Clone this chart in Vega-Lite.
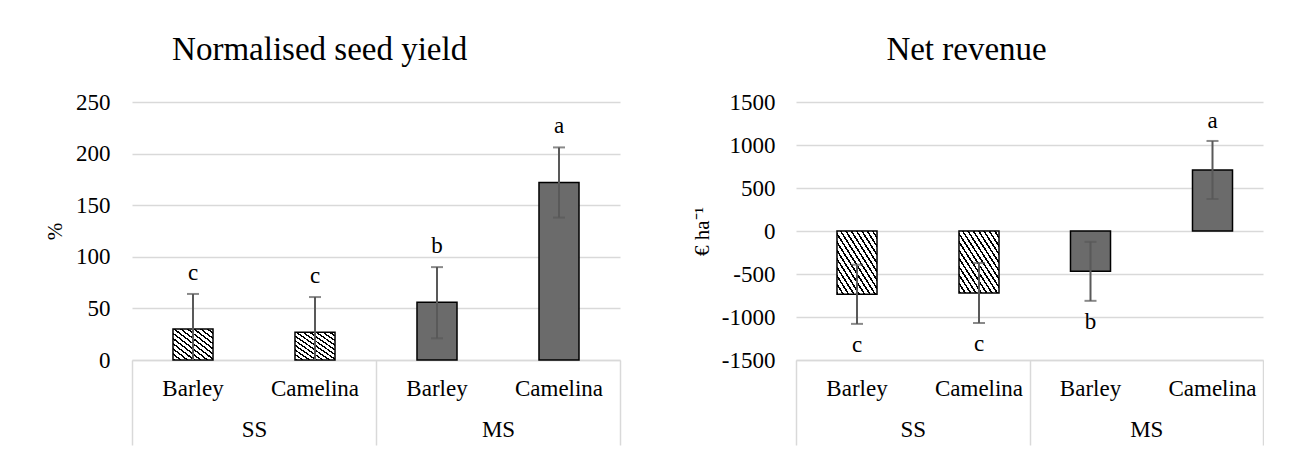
{
  "$schema": "https://vega.github.io/schema/vega-lite/v6.json",
  "background": "white",
  "padding": {"left": 44, "top": 34, "right": 0, "bottom": 0},
  "config": {
    "font": "Liberation Serif",
    "view": {"stroke": null},
    "axis": {"labelColor": "black", "titleColor": "black", "labelFontSize": 23, "titleFontSize": 21, "titleFontWeight": "normal", "labelFont": "Liberation Serif", "titleFont": "Liberation Serif"},
    "title": {"font": "Liberation Serif", "fontWeight": "normal", "color": "black", "fontSize": 33}
  },
  "datasets": {
    "yield": [
      {"system": "SS", "crop": "Barley", "mean": 30, "lo": -4, "hi": 64, "letter": "c"},
      {"system": "SS", "crop": "Camelina", "mean": 27, "lo": -7, "hi": 61, "letter": "c"},
      {"system": "MS", "crop": "Barley", "mean": 56, "lo": 21, "hi": 90, "letter": "b"},
      {"system": "MS", "crop": "Camelina", "mean": 172, "lo": 138, "hi": 206, "letter": "a"}
    ],
    "revenue": [
      {"system": "SS", "crop": "Barley", "mean": -735, "lo": -1080, "hi": -392, "letter": "c"},
      {"system": "SS", "crop": "Camelina", "mean": -720, "lo": -1070, "hi": -372, "letter": "c"},
      {"system": "MS", "crop": "Barley", "mean": -468, "lo": -812, "hi": -126, "letter": "b"},
      {"system": "MS", "crop": "Camelina", "mean": 710, "lo": 372, "hi": 1047, "letter": "a"}
    ]
  },
  "spacing": 70,
  "hconcat": [
    {
      "width": 488,
      "height": 258,
      "title": {"text": "Normalised seed yield", "anchor": "middle", "frame": "bounds", "dx": -13, "offset": 24},
      "data": {"name": "yield"},
      "encoding": {
        "x": {"field": "system", "type": "nominal", "sort": ["SS", "MS"], "scale": {"paddingInner": 0, "paddingOuter": 0},
          "axis": {"title": null, "labelAngle": 0, "tickBand": "extent", "tickSize": 85, "tickColor": "#d9d9d9", "tickWidth": 1.5, "domainColor": "#d9d9d9", "domainWidth": 1.5, "labelPadding": -26.5, "grid": false}},
        "xOffset": {"field": "crop", "type": "nominal", "sort": ["Barley", "Camelina"], "scale": {"paddingInner": 0.672, "paddingOuter": 0.336}}
      },
      "layer": [
        {
          "mark": {"type": "bar", "stroke": "black", "strokeWidth": 1.5},
          "encoding": {
            "y": {"field": "mean", "type": "quantitative", "scale": {"domain": [0, 250], "nice": false},
              "axis": {"title": "%", "labelExpr": "datum.value + ''", "values": [0, 50, 100, 150, 200, 250], "grid": true, "gridColor": "#d9d9d9", "gridWidth": 1.5, "domain": false, "ticks": false, "labelPadding": 22, "titlePadding": 10}},
            "fill": {
              "condition": {"test": "datum.system === 'SS'", "value": {"gradient": "linear", "x1": 0, "y1": 1, "x2": 1, "y2": 0, "stops": [
                {"offset": 0, "color": "black"}, {"offset": 0.0292, "color": "black"}, {"offset": 0.0292, "color": "white"}, {"offset": 0.0833, "color": "white"},
                {"offset": 0.0833, "color": "black"}, {"offset": 0.1125, "color": "black"}, {"offset": 0.1125, "color": "white"}, {"offset": 0.1667, "color": "white"},
                {"offset": 0.1667, "color": "black"}, {"offset": 0.1958, "color": "black"}, {"offset": 0.1958, "color": "white"}, {"offset": 0.25, "color": "white"},
                {"offset": 0.25, "color": "black"}, {"offset": 0.2792, "color": "black"}, {"offset": 0.2792, "color": "white"}, {"offset": 0.3333, "color": "white"},
                {"offset": 0.3333, "color": "black"}, {"offset": 0.3625, "color": "black"}, {"offset": 0.3625, "color": "white"}, {"offset": 0.4167, "color": "white"},
                {"offset": 0.4167, "color": "black"}, {"offset": 0.4458, "color": "black"}, {"offset": 0.4458, "color": "white"}, {"offset": 0.5, "color": "white"},
                {"offset": 0.5, "color": "black"}, {"offset": 0.5292, "color": "black"}, {"offset": 0.5292, "color": "white"}, {"offset": 0.5833, "color": "white"},
                {"offset": 0.5833, "color": "black"}, {"offset": 0.6125, "color": "black"}, {"offset": 0.6125, "color": "white"}, {"offset": 0.6667, "color": "white"},
                {"offset": 0.6667, "color": "black"}, {"offset": 0.6958, "color": "black"}, {"offset": 0.6958, "color": "white"}, {"offset": 0.75, "color": "white"},
                {"offset": 0.75, "color": "black"}, {"offset": 0.7792, "color": "black"}, {"offset": 0.7792, "color": "white"}, {"offset": 0.8333, "color": "white"},
                {"offset": 0.8333, "color": "black"}, {"offset": 0.8625, "color": "black"}, {"offset": 0.8625, "color": "white"}, {"offset": 0.9167, "color": "white"},
                {"offset": 0.9167, "color": "black"}, {"offset": 0.9458, "color": "black"}, {"offset": 0.9458, "color": "white"}, {"offset": 1, "color": "white"}
              ]}},
              "value": "#6b6b6b"
            }
          }
        },
        {
          "mark": {"type": "rule", "color": "#595959", "strokeWidth": 2, "clip": true},
          "encoding": {"y": {"field": "lo", "type": "quantitative"}, "y2": {"field": "hi"}}
        },
        {
          "mark": {"type": "tick", "color": "#595959", "thickness": 2, "size": 12, "clip": true, "orient": "horizontal"},
          "encoding": {"y": {"field": "lo", "type": "quantitative"}}
        },
        {
          "mark": {"type": "tick", "color": "#595959", "thickness": 2, "size": 12, "orient": "horizontal"},
          "encoding": {"y": {"field": "hi", "type": "quantitative"}}
        },
        {
          "mark": {"type": "text", "fontSize": 23, "baseline": "alphabetic", "dy": -14, "color": "black"},
          "encoding": {"y": {"field": "hi", "type": "quantitative"}, "text": {"field": "letter"}}
        },
        {
          "mark": {"type": "text", "fontSize": 23, "baseline": "middle", "dy": 29, "color": "black"},
          "encoding": {"y": {"datum": 0}, "text": {"field": "crop"}}
        }
      ]
    },
    {
      "width": 467,
      "height": 258,
      "title": {"text": "Net revenue", "anchor": "middle", "frame": "bounds", "dx": -11, "offset": 24},
      "data": {"name": "revenue"},
      "encoding": {
        "x": {"field": "system", "type": "nominal", "sort": ["SS", "MS"], "scale": {"paddingInner": 0, "paddingOuter": 0},
          "axis": {"title": null, "labelAngle": 0, "tickBand": "extent", "tickSize": 85, "tickColor": "#d9d9d9", "tickWidth": 1.5, "domainColor": "#d9d9d9", "domainWidth": 1.5, "labelPadding": -26.5, "grid": false}},
        "xOffset": {"field": "crop", "type": "nominal", "sort": ["Barley", "Camelina"], "scale": {"paddingInner": 0.683, "paddingOuter": 0.3415}}
      },
      "layer": [
        {
          "mark": {"type": "bar", "stroke": "black", "strokeWidth": 1.5},
          "encoding": {
            "y": {"field": "mean", "type": "quantitative", "scale": {"domain": [-1500, 1500], "nice": false},
              "axis": {"title": "€ ha⁻¹", "labelExpr": "datum.value + ''", "values": [-1500, -1000, -500, 0, 500, 1000, 1500], "grid": true, "gridColor": "#d9d9d9", "gridWidth": 1.5, "domain": false, "ticks": false, "labelPadding": 21, "titlePadding": 9}},
            "fill": {
              "condition": {"test": "datum.system === 'SS'", "value": {"gradient": "linear", "x1": 0, "y1": 1, "x2": 1, "y2": 0, "stops": [
                {"offset": 0, "color": "black"}, {"offset": 0.0233, "color": "black"}, {"offset": 0.0233, "color": "white"}, {"offset": 0.0667, "color": "white"},
                {"offset": 0.0667, "color": "black"}, {"offset": 0.09, "color": "black"}, {"offset": 0.09, "color": "white"}, {"offset": 0.1333, "color": "white"},
                {"offset": 0.1333, "color": "black"}, {"offset": 0.1567, "color": "black"}, {"offset": 0.1567, "color": "white"}, {"offset": 0.2, "color": "white"},
                {"offset": 0.2, "color": "black"}, {"offset": 0.2233, "color": "black"}, {"offset": 0.2233, "color": "white"}, {"offset": 0.2667, "color": "white"},
                {"offset": 0.2667, "color": "black"}, {"offset": 0.29, "color": "black"}, {"offset": 0.29, "color": "white"}, {"offset": 0.3333, "color": "white"},
                {"offset": 0.3333, "color": "black"}, {"offset": 0.3567, "color": "black"}, {"offset": 0.3567, "color": "white"}, {"offset": 0.4, "color": "white"},
                {"offset": 0.4, "color": "black"}, {"offset": 0.4233, "color": "black"}, {"offset": 0.4233, "color": "white"}, {"offset": 0.4667, "color": "white"},
                {"offset": 0.4667, "color": "black"}, {"offset": 0.49, "color": "black"}, {"offset": 0.49, "color": "white"}, {"offset": 0.5333, "color": "white"},
                {"offset": 0.5333, "color": "black"}, {"offset": 0.5567, "color": "black"}, {"offset": 0.5567, "color": "white"}, {"offset": 0.6, "color": "white"},
                {"offset": 0.6, "color": "black"}, {"offset": 0.6233, "color": "black"}, {"offset": 0.6233, "color": "white"}, {"offset": 0.6667, "color": "white"},
                {"offset": 0.6667, "color": "black"}, {"offset": 0.69, "color": "black"}, {"offset": 0.69, "color": "white"}, {"offset": 0.7333, "color": "white"},
                {"offset": 0.7333, "color": "black"}, {"offset": 0.7567, "color": "black"}, {"offset": 0.7567, "color": "white"}, {"offset": 0.8, "color": "white"},
                {"offset": 0.8, "color": "black"}, {"offset": 0.8233, "color": "black"}, {"offset": 0.8233, "color": "white"}, {"offset": 0.8667, "color": "white"},
                {"offset": 0.8667, "color": "black"}, {"offset": 0.89, "color": "black"}, {"offset": 0.89, "color": "white"}, {"offset": 0.9333, "color": "white"},
                {"offset": 0.9333, "color": "black"}, {"offset": 0.9567, "color": "black"}, {"offset": 0.9567, "color": "white"}, {"offset": 1, "color": "white"}
              ]}},
              "value": "#6b6b6b"
            }
          }
        },
        {
          "mark": {"type": "rule", "color": "#595959", "strokeWidth": 2},
          "encoding": {"y": {"field": "lo", "type": "quantitative"}, "y2": {"field": "hi"}}
        },
        {
          "mark": {"type": "tick", "color": "#595959", "thickness": 2, "size": 12, "orient": "horizontal"},
          "encoding": {"y": {"field": "lo", "type": "quantitative"}}
        },
        {
          "mark": {"type": "tick", "color": "#595959", "thickness": 2, "size": 12, "orient": "horizontal"},
          "encoding": {"y": {"field": "hi", "type": "quantitative"}}
        },
        {
          "transform": [{"filter": "datum.mean >= 0"}],
          "mark": {"type": "text", "fontSize": 23, "baseline": "alphabetic", "dy": -13, "color": "black"},
          "encoding": {"y": {"field": "hi", "type": "quantitative"}, "text": {"field": "letter"}}
        },
        {
          "transform": [{"filter": "datum.mean < 0"}],
          "mark": {"type": "text", "fontSize": 23, "baseline": "alphabetic", "dy": 28, "color": "black"},
          "encoding": {"y": {"field": "lo", "type": "quantitative"}, "text": {"field": "letter"}}
        },
        {
          "mark": {"type": "text", "fontSize": 23, "baseline": "middle", "dy": 29, "color": "black"},
          "encoding": {"y": {"datum": -1500}, "text": {"field": "crop"}}
        }
      ]
    }
  ]
}
